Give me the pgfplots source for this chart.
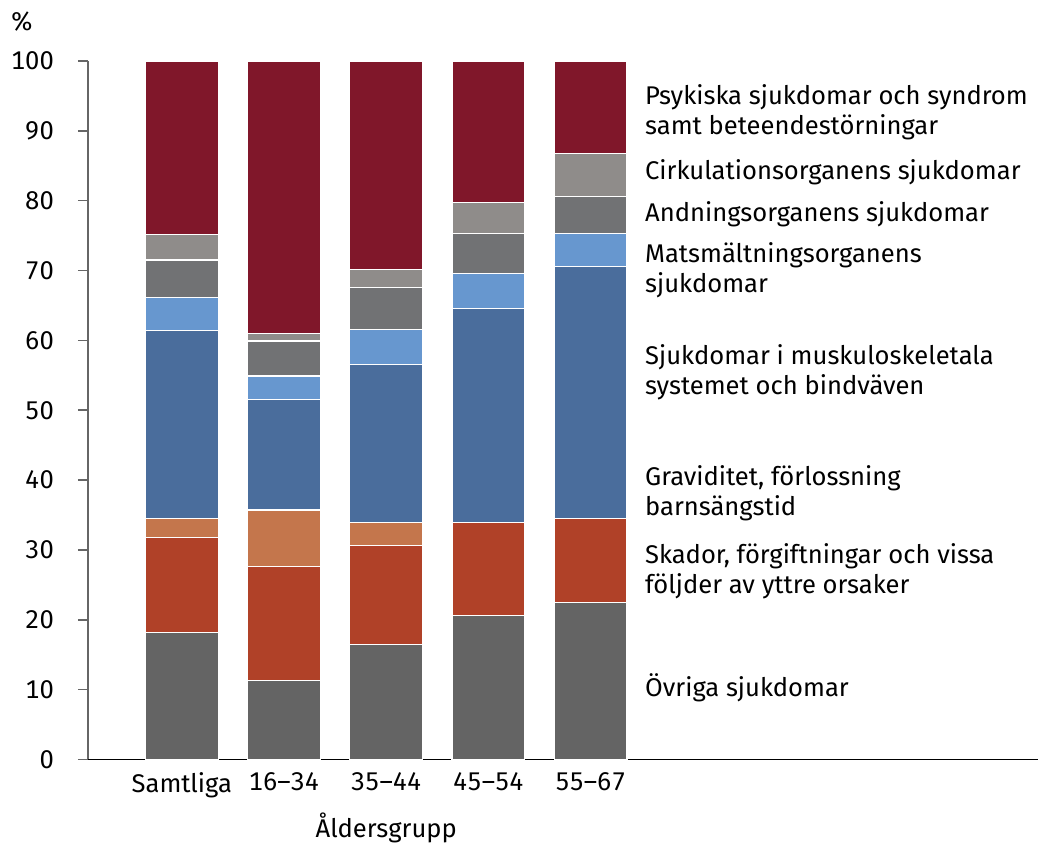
\documentclass[border=0pt]{standalone}
\usepackage{pgfplots}
\pgfplotsset{compat=1.18}
\usepackage{pgfplotstable}
\usepackage{fontspec}
\setmainfont{Fira Sans}[Numbers=Monospaced]

\definecolor{cOvr}{HTML}{646464}
\definecolor{cSka}{HTML}{B04128}
\definecolor{cGra}{HTML}{C4764C}
\definecolor{cMus}{HTML}{4A6D9C}
\definecolor{cMat}{HTML}{6797CF}
\definecolor{cAnd}{HTML}{717274}
\definecolor{cCir}{HTML}{8F8C8A}
\definecolor{cPsy}{HTML}{80172A}

\pgfplotstableread{
x ovr ska gra mus mat andn cir psy
0 18.2 13.6 2.7 26.9 4.7 5.4 3.7 24.8
1 11.3 16.3 8.1 15.8 3.4 5.0 1.1 39.0
2 16.5 14.1 3.3 22.6 5.0 6.1 2.5 29.9
3 20.6 13.3 0.0 30.7 5.0 5.7 4.4 20.3
4 22.5 12.0 0.0 36.1 4.7 5.3 6.1 13.3
}\datatab

\tikzset{lbl/.style={anchor=west, align=left, inner sep=0pt, font=\fontsize{12.8}{15}\selectfont}}

\begin{document}
\begin{tikzpicture}[font=\fontsize{12.8}{15}\selectfont]
\begin{axis}[
  scale only axis,
  width=475.5pt, height=349.5pt,
  ybar stacked,
  bar width=36.5pt,
  xmin=-0.919, xmax=8.38,
  ymin=0, ymax=100,
  ytick={0,10,...,100},
  xtick={0,1,2,3,4},
  xticklabels={Samtliga,16–34,35–44,45–54,55–67},
  axis lines*=left,
  x axis line style={black, line width=0.8pt},
  y axis line style={black!60, line width=0.8pt},
  xtick style={draw=none},
  ytick style={black!60, line width=0.8pt},
  tick align=outside,
  major tick length=5pt,
  ytick pos=left,
  /pgf/number format/assume math mode=true,
  tick label style={font=\fontsize{12.8}{15}\selectfont},
  yticklabel style={xshift=-8.5pt},
  xticklabel style={yshift=2pt},
  clip=false,
]
\addplot[draw=white, line width=0.6pt, fill=cOvr] table[x=x,y=ovr]{\datatab};
\addplot[draw=white, line width=0.6pt, fill=cSka] table[x=x,y=ska]{\datatab};
\addplot[draw=white, line width=0.6pt, fill=cGra] table[x=x,y=gra]{\datatab};
\addplot[draw=white, line width=0.6pt, fill=cMus] table[x=x,y=mus]{\datatab};
\addplot[draw=white, line width=0.6pt, fill=cMat] table[x=x,y=mat]{\datatab};
\addplot[draw=white, line width=0.6pt, fill=cAnd] table[x=x,y=andn]{\datatab};
\addplot[draw=white, line width=0.6pt, fill=cCir] table[x=x,y=cir]{\datatab};
\addplot[draw=white, line width=0.6pt, fill=cPsy] table[x=x,y=psy]{\datatab};

\path (rel axis cs:-0.0925,-0.1173) rectangle (rel axis cs:1,1.0873);

\node[lbl] at (axis cs:4.53,92.7) {Psykiska sjukdomar och syndrom\\samt beteendestörningar};
\node[lbl] at (axis cs:4.53,84.1) {Cirkulationsorganens sjukdomar};
\node[lbl] at (axis cs:4.53,78.0) {Andningsorganens sjukdomar};
\node[lbl] at (axis cs:4.53,70.1) {Matsmältningsorganens\\sjukdomar};
\node[lbl] at (axis cs:4.53,55.5) {Sjukdomar i muskuloskeletala\\systemet och bindväven};
\node[lbl] at (axis cs:4.53,38.1) {Graviditet, förlossning\\barnsängstid};
\node[lbl] at (axis cs:4.53,27.0) {Skador, förgiftningar och vissa\\följder av yttre orsaker};
\node[lbl] at (axis cs:4.53,10.3) {Övriga sjukdomar};
\node[inner sep=0pt] at (rel axis cs:-0.0694,1.0558) {\%};
\node[inner sep=0pt] at (axis cs:2,-9.8) {Åldersgrupp};
\end{axis}
\end{tikzpicture}
\end{document}
